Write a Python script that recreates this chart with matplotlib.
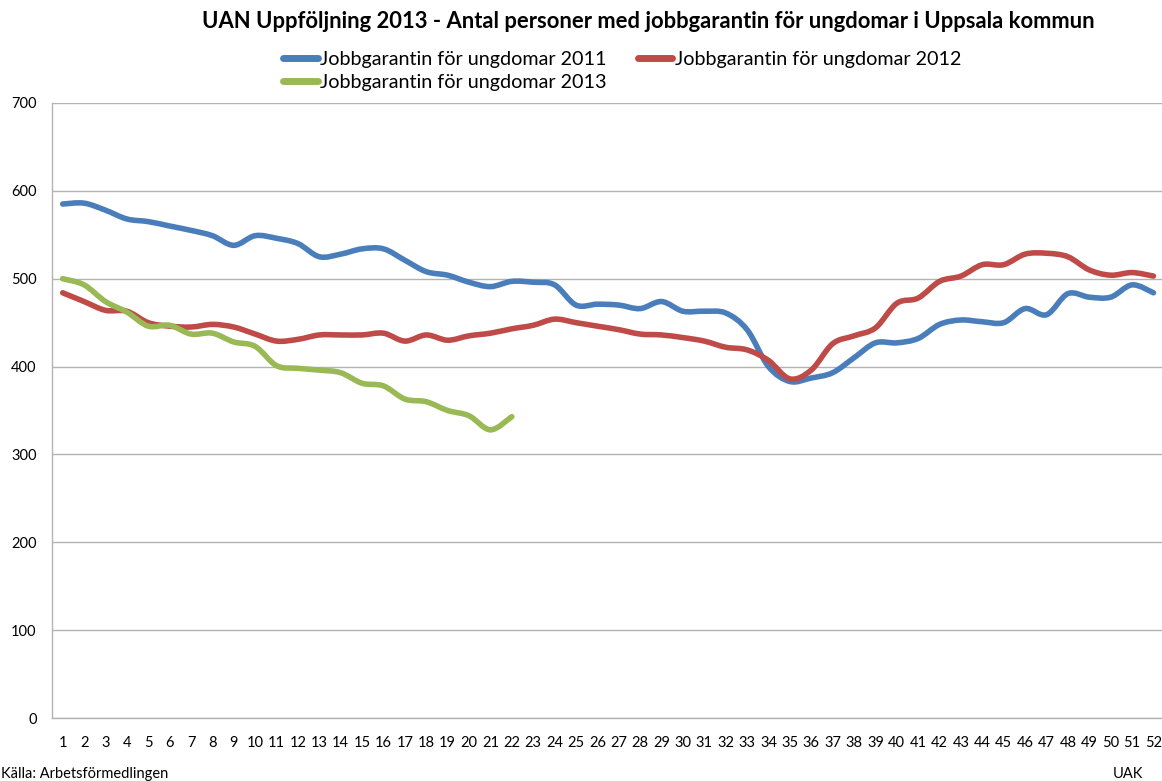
"""UAN Uppföljning 2013 - jobbgarantin för ungdomar i Uppsala kommun."""

import matplotlib
matplotlib.use("Agg")
import matplotlib.pyplot as plt
import numpy as np
from matplotlib.lines import Line2D
from matplotlib.patches import PathPatch
from matplotlib.path import Path

WEEKS = list(range(1, 53))

Y2011 = [585, 586, 578, 568, 565, 560, 555, 549, 538, 549,
         546, 540, 525, 528, 534, 534, 521, 508, 504, 496,
         491, 497, 496, 493, 470, 471, 470, 466, 474, 463,
         463, 461, 442, 400, 383, 387, 393, 410, 427, 427,
         432, 448, 453, 451, 450, 466, 459, 483, 479, 479,
         493, 484]

Y2012 = [484, 474, 464, 463, 450, 446, 445, 448, 445, 437,
         429, 431, 436, 436, 436, 438, 429, 436, 430, 435,
         438, 443, 447, 454, 450, 446, 442, 437, 436, 433,
         429, 422, 419, 407, 386, 396, 426, 435, 444, 472,
         478, 497, 503, 516, 516, 528, 529, 525, 510, 504,
         507, 503]

Y2013 = [500, 493, 474, 462, 446, 447, 437, 438, 428, 423,
         401, 398, 396, 393, 381, 378, 363, 360, 350, 344,
         328, 343]

LABELS = ["Jobbgarantin för ungdomar 2011",
          "Jobbgarantin för ungdomar 2012",
          "Jobbgarantin för ungdomar 2013"]
COLORS = ["#4A7EBB", "#BE4B48", "#98B954"]

FONT = ["Lato", "DejaVu Sans"]


def smooth_path(x, y):
    # Catmull-Rom through the points, as cubic bezier segments (Excel "smoothed line")
    pts = np.column_stack([x, y]).astype(float)
    n = len(pts)
    verts = [pts[0]]
    codes = [Path.MOVETO]
    for i in range(n - 1):
        p0 = pts[max(i - 1, 0)]
        p1 = pts[i]
        p2 = pts[i + 1]
        p3 = pts[min(i + 2, n - 1)]
        c1 = p1 + (p2 - p0) / 6.0
        c2 = p2 - (p3 - p1) / 6.0
        verts += [c1, c2, p2]
        codes += [Path.CURVE4] * 3
    return Path(verts, codes)


def main():
    plt.rcParams["font.family"] = FONT
    fig = plt.figure(figsize=(11.62, 7.81), dpi=100)
    ax = fig.add_axes([52 / 1162, 1 - 718 / 781, 1 - 52 / 1162, (718 - 103) / 781])

    series = [(WEEKS, Y2011), (WEEKS, Y2012), (WEEKS[:len(Y2013)], Y2013)]
    for (xs, ys), color in zip(series, COLORS):
        patch = PathPatch(smooth_path(xs, ys), facecolor="none", edgecolor=color,
                          lw=4.0, capstyle="round", joinstyle="round", zorder=3)
        ax.add_patch(patch)

    ax.set_xlim(0.5, 52.4)
    ax.set_ylim(0, 700)
    ax.set_yticks(range(0, 701, 100))
    ax.set_xticks(WEEKS)
    ax.set_xticklabels([str(w) for w in WEEKS])
    ax.grid(axis="y", color="#b3b3b3", lw=1.0)
    ax.set_axisbelow(True)
    for side in ["top", "right"]:
        ax.spines[side].set_visible(False)
    for side in ["left", "bottom"]:
        ax.spines[side].set_color("#b3b3b3")
        ax.spines[side].set_linewidth(1.0)
    ax.tick_params(length=0, labelsize=10.5, colors="black")
    ax.tick_params(axis="x", pad=13)
    ax.tick_params(axis="y", pad=11)

    fig.text(648 / 1162, 1 - 22 / 781, "UAN Uppföljning 2013 - Antal personer med jobbgarantin för ungdomar i Uppsala kommun",
             ha="center", va="center", fontsize=15.8, fontweight="bold")

    handles = [Line2D([0], [0], color=c, lw=5, solid_capstyle="round") for c in COLORS]
    order = [0, 2, 1]
    fig.legend([handles[i] for i in order], [LABELS[i] for i in order],
               loc="upper left", bbox_to_anchor=(283 / 1162, 1 - 51 / 781),
               ncol=2, frameon=False, fontsize=14.2, handlelength=1.75,
               handletextpad=0.12, columnspacing=1.6, borderpad=0,
               borderaxespad=0, labelspacing=0.32)

    fig.text(1 / 1162, 1 - 774 / 781, "Källa: Arbetsförmedlingen", ha="left", va="center", fontsize=10.5)
    fig.text(1128 / 1162, 1 - 774 / 781, "UAK", ha="center", va="center", fontsize=10.5)

    fig.savefig("out.png", dpi=100)


if __name__ == "__main__":
    main()
